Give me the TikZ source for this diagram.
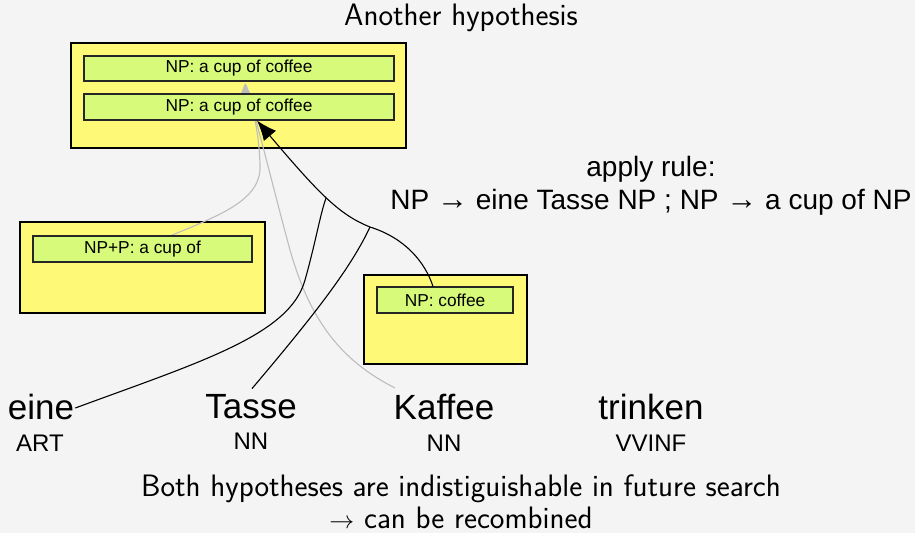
\documentclass[tikz,border=0pt]{standalone}
\usepackage{fontspec}
\newfontfamily\hv{Liberation Sans}
\usetikzlibrary{arrows.meta}
\definecolor{bgc}{HTML}{F4F4F4}
\definecolor{hypo}{HTML}{FFF978}
\definecolor{item}{HTML}{D7FA7A}
\definecolor{faint}{HTML}{BDBDBD}
\tikzset{
  hypbox/.style={draw=black, line width=2.4pt, fill=hypo},
  itembox/.style={draw=black!85, line width=1.1pt, fill=item, inner sep=0pt,
    font=\hv\fontsize{17.3}{19}\selectfont},
  word/.style={font=\hv\fontsize{35}{38}\selectfont, inner sep=0pt},
  tag/.style={font=\hv\fontsize{24}{27}\selectfont, inner sep=0pt},
  lmtext/.style={font=\sffamily\fontsize{31}{34}\selectfont, inner sep=0pt},
  link/.style={line width=1.1pt, black},
  oldlink/.style={line width=1.1pt, faint},
}
\begin{document}
\begin{tikzpicture}[x=1pt, y=-1pt]
\fill[bgc] (0,0) rectangle (915,533);
\useasboundingbox (0,0) rectangle (915,533);

\node[lmtext] (title) at (461,18) {Another hypothesis};

% hypothesis boxes
\draw[hypbox] (71,43) rectangle (406,148);
\draw[hypbox] (20,222) rectangle (265,313);
\draw[hypbox] (364,275) rectangle (527,364);

% words and their tags
\node[word] (eine)   at (41,407)  {eine};
\node[word] (tasse)  at (251,407) {Tasse};
\node[word] (kaffee) at (444,407) {Kaffee};
\node[word] (trinken) at (651,407) {trinken};
\node[tag] (art)   at (40,443)  {ART};
\node[tag] (nn1)   at (251,441) {NN};
\node[tag] (nn2)   at (444,443) {NN};
\node[tag] (vvinf) at (651,443) {VVINF};

% recombined hypothesis (grey)
\coordinate (gtip) at (246,85);
\coordinate (ktail) at (395,388);
\coordinate (ptail) at (170,236);
\draw[oldlink] (ktail) .. controls (340,360) and (310,320) .. (290,250)
  .. controls (275,195) and (262,140) .. (gtip);
\draw[oldlink] (ptail) .. controls (220,215) and (262,200) .. (260,165)
  .. controls (259,130) and (252,105) .. (gtip);
\fill[faint] (245,83) -- (240,96) -- (251,95) -- cycle;

% items inside the boxes
\node[itembox, minimum width=310pt, minimum height=25pt] (np1) at (239,68.5) {NP: a cup of coffee};
\node[itembox, minimum width=310pt, minimum height=26pt] (np2) at (239,107) {NP: a cup of coffee};
\node[itembox, minimum width=219pt, minimum height=26pt] (npp) at (142.5,249) {NP+P: a cup of};
\node[itembox, minimum width=136pt, minimum height=26pt] (npc) at (445,300) {NP: coffee};

% rule application
\coordinate (j1) at (326,198);
\coordinate (j2) at (370,227);
\draw[link, -{Latex[length=20pt,width=16pt]}] (npc.north -| 433,0) .. controls (425,262) and (405,238) .. (j2)
  .. controls (340,215) and (320,195) .. (np2.south -| 257,0);
\draw[link] (eine.east) ++(1,1) .. controls (200,362) and (290,335) .. (305,280)
  .. controls (315,245) and (320,215) .. (j1);
\draw[link] (tasse.north) ++(1,-6) .. controls (310,320) and (350,270) .. (j2);

\node[font=\hv\fontsize{28}{33}\selectfont, align=center, inner sep=0pt] (rule) at (651,186)
  {apply rule:\\NP {\fontsize{31}{31}\selectfont →} eine Tasse NP ; NP {\fontsize{31}{31}\selectfont →} a cup of NP};

\node[lmtext] (note1) at (461,489) {Both hypotheses are indistiguishable in future search};
\node[lmtext] (note2) at (461,518) {$\rightarrow$ can be recombined};
\end{tikzpicture}
\end{document}
